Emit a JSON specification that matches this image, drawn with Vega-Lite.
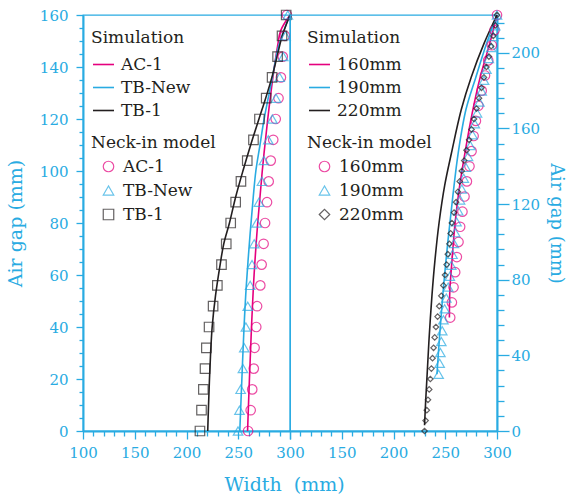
{
  "$schema": "https://vega.github.io/schema/vega-lite/v6.json",
  "padding": {"left": 5, "top": 7, "right": 2, "bottom": 2},
  "background": "white",
  "config": {
    "font": "DejaVu Serif",
    "view": {"stroke": "#29abe2", "strokeWidth": 1.3},
    "axis": {
      "grid": false, "domainColor": "#29abe2", "domainWidth": 2, "tickColor": "#29abe2", "tickWidth": 1.3,
      "labelColor": "#29abe2", "labelFontSize": 15, "labelFont": "DejaVu Serif", "labelOverlap": false, "labelFlush": false, "labelBound": false,
      "titleColor": "#29abe2", "titleFontSize": 19, "titleFontWeight": "normal", "titleFont": "DejaVu Serif"
    },
    "legend": {
      "labelFont": "DejaVu Serif", "titleFont": "DejaVu Serif", "labelFontSize": 17, "titleFontSize": 17,
      "titleFontWeight": "normal", "labelColor": "#231f20", "titleColor": "#231f20", "padding": 0, "labelOffset": 6
    }
  },
  "datasets": {
    "simA": [
      {"s":"AC-1","x":259,"y":0},{"s":"AC-1","x":260.8,"y":20},{"s":"AC-1","x":262.8,"y":40},{"s":"AC-1","x":265.3,"y":60},{"s":"AC-1","x":268.8,"y":80},{"s":"AC-1","x":273.2,"y":100},{"s":"AC-1","x":278.5,"y":120},{"s":"AC-1","x":283.5,"y":136},{"s":"AC-1","x":288,"y":148},{"s":"AC-1","x":291,"y":154},{"s":"AC-1","x":300,"y":160},
      {"s":"TB-New","x":251.5,"y":0},{"s":"TB-New","x":253.5,"y":20},{"s":"TB-New","x":255.6,"y":40},{"s":"TB-New","x":257.8,"y":56},{"s":"TB-New","x":261.5,"y":76},{"s":"TB-New","x":264.5,"y":90},{"s":"TB-New","x":267,"y":100},{"s":"TB-New","x":271,"y":110},{"s":"TB-New","x":275,"y":120},{"s":"TB-New","x":283,"y":136},{"s":"TB-New","x":289,"y":148},{"s":"TB-New","x":300,"y":160},
      {"s":"TB-1","x":220.5,"y":0},{"s":"TB-1","x":221.3,"y":10},{"s":"TB-1","x":222.2,"y":20},{"s":"TB-1","x":223.3,"y":30},{"s":"TB-1","x":224.8,"y":40},{"s":"TB-1","x":228,"y":52},{"s":"TB-1","x":232.5,"y":64},{"s":"TB-1","x":236,"y":72},{"s":"TB-1","x":241.5,"y":80},{"s":"TB-1","x":247.5,"y":90},{"s":"TB-1","x":254.5,"y":100},{"s":"TB-1","x":262,"y":110},{"s":"TB-1","x":270,"y":120},{"s":"TB-1","x":276.5,"y":128},{"s":"TB-1","x":282.5,"y":136},{"s":"TB-1","x":287.5,"y":144},{"s":"TB-1","x":292.5,"y":152},{"s":"TB-1","x":300,"y":160}
    ],
    "modelA": [
      {"s":"AC-1","x":259.5,"y":0},{"s":"AC-1","x":262,"y":8},{"s":"AC-1","x":263.5,"y":16},{"s":"AC-1","x":265,"y":24},{"s":"AC-1","x":265.8,"y":32},{"s":"AC-1","x":267.4,"y":40},{"s":"AC-1","x":268.2,"y":48},{"s":"AC-1","x":271.3,"y":56},{"s":"AC-1","x":272.6,"y":64},{"s":"AC-1","x":274.5,"y":72},{"s":"AC-1","x":275.9,"y":80},{"s":"AC-1","x":277.8,"y":88},{"s":"AC-1","x":279.4,"y":96},{"s":"AC-1","x":281.4,"y":104},{"s":"AC-1","x":283.8,"y":112},{"s":"AC-1","x":286.2,"y":120},{"s":"AC-1","x":288.9,"y":128},{"s":"AC-1","x":291.2,"y":136},{"s":"AC-1","x":293,"y":144},{"s":"AC-1","x":295,"y":152},{"s":"AC-1","x":297,"y":160},
      {"s":"TB-New","x":249.8,"y":0},{"s":"TB-New","x":251.2,"y":8},{"s":"TB-New","x":252.3,"y":16},{"s":"TB-New","x":254.5,"y":24},{"s":"TB-New","x":255.8,"y":32},{"s":"TB-New","x":257.4,"y":40},{"s":"TB-New","x":259.2,"y":48},{"s":"TB-New","x":261.5,"y":56},{"s":"TB-New","x":263.3,"y":64},{"s":"TB-New","x":265.4,"y":72},{"s":"TB-New","x":267.8,"y":80},{"s":"TB-New","x":270,"y":88},{"s":"TB-New","x":272.9,"y":96},{"s":"TB-New","x":274.8,"y":104},{"s":"TB-New","x":279,"y":112},{"s":"TB-New","x":283,"y":120},{"s":"TB-New","x":286.5,"y":128},{"s":"TB-New","x":290,"y":136},{"s":"TB-New","x":293.5,"y":144},{"s":"TB-New","x":295.7,"y":152},{"s":"TB-New","x":297.9,"y":160},
      {"s":"TB-1","x":213,"y":0},{"s":"TB-1","x":214.5,"y":8},{"s":"TB-1","x":216.3,"y":16},{"s":"TB-1","x":217.9,"y":24},{"s":"TB-1","x":219.2,"y":32},{"s":"TB-1","x":221.8,"y":40},{"s":"TB-1","x":225.7,"y":48},{"s":"TB-1","x":229.8,"y":56},{"s":"TB-1","x":233.8,"y":64},{"s":"TB-1","x":238.4,"y":72},{"s":"TB-1","x":242.7,"y":80},{"s":"TB-1","x":247.5,"y":88},{"s":"TB-1","x":252.6,"y":96},{"s":"TB-1","x":258.7,"y":104},{"s":"TB-1","x":264.7,"y":112},{"s":"TB-1","x":270.5,"y":120},{"s":"TB-1","x":277,"y":128},{"s":"TB-1","x":282.7,"y":136},{"s":"TB-1","x":288,"y":144},{"s":"TB-1","x":292.3,"y":152},{"s":"TB-1","x":296.3,"y":160}
    ],
    "simB": [
      {"s":"160mm","x":254,"y":60},{"s":"160mm","x":254.5,"y":75},{"s":"160mm","x":256.5,"y":90},{"s":"160mm","x":259.5,"y":110},{"s":"160mm","x":264,"y":130},{"s":"160mm","x":269,"y":147},{"s":"160mm","x":276,"y":168},{"s":"160mm","x":283.7,"y":187},{"s":"160mm","x":293,"y":205},{"s":"160mm","x":300,"y":220},
      {"s":"190mm","x":242,"y":30},{"s":"190mm","x":244.5,"y":50},{"s":"190mm","x":247.8,"y":73},{"s":"190mm","x":252.5,"y":100},{"s":"190mm","x":257.5,"y":125},{"s":"190mm","x":262.5,"y":147},{"s":"190mm","x":270,"y":170},{"s":"190mm","x":279.5,"y":187},{"s":"190mm","x":290,"y":205},{"s":"190mm","x":300,"y":220},
      {"s":"220mm","x":230,"y":3},{"s":"220mm","x":231,"y":15},{"s":"220mm","x":232.5,"y":30},{"s":"220mm","x":234.5,"y":50},{"s":"220mm","x":237.2,"y":72},{"s":"220mm","x":240,"y":90},{"s":"220mm","x":244,"y":110},{"s":"220mm","x":249.5,"y":130},{"s":"220mm","x":256,"y":147},{"s":"220mm","x":265.5,"y":170},{"s":"220mm","x":275,"y":187},{"s":"220mm","x":287.5,"y":205},{"s":"220mm","x":300,"y":220}
    ],
    "modelB": [
      {"s":"160mm","x":254.8,"y":60},{"s":"160mm","x":256.4,"y":68},{"s":"160mm","x":258,"y":76},{"s":"160mm","x":259.6,"y":84},{"s":"160mm","x":261.2,"y":92},{"s":"160mm","x":262.8,"y":100},{"s":"160mm","x":264.4,"y":108},{"s":"160mm","x":266.6,"y":116},{"s":"160mm","x":268.6,"y":124},{"s":"160mm","x":270.9,"y":132},{"s":"160mm","x":273.4,"y":140},{"s":"160mm","x":275.4,"y":148},{"s":"160mm","x":277.4,"y":156},{"s":"160mm","x":279.6,"y":164},{"s":"160mm","x":282,"y":172},{"s":"160mm","x":285.2,"y":180},{"s":"160mm","x":288.4,"y":188},{"s":"160mm","x":291.5,"y":196},{"s":"160mm","x":295,"y":204},{"s":"160mm","x":297.6,"y":212},{"s":"160mm","x":300,"y":220},
      {"s":"190mm","x":243.6,"y":30},{"s":"190mm","x":244.6,"y":35.8},{"s":"190mm","x":245.3,"y":41.5},{"s":"190mm","x":246.2,"y":47.3},{"s":"190mm","x":247.1,"y":53},{"s":"190mm","x":248.2,"y":58.8},{"s":"190mm","x":249.4,"y":64.6},{"s":"190mm","x":251,"y":70.3},{"s":"190mm","x":252.8,"y":76.1},{"s":"190mm","x":254.4,"y":81.8},{"s":"190mm","x":255.8,"y":87.6},{"s":"190mm","x":257,"y":93.4},{"s":"190mm","x":258.4,"y":99.1},{"s":"190mm","x":259.6,"y":104.9},{"s":"190mm","x":260.9,"y":110.6},{"s":"190mm","x":262.5,"y":116.4},{"s":"190mm","x":264.3,"y":122.2},{"s":"190mm","x":266,"y":127.9},{"s":"190mm","x":267.9,"y":133.7},{"s":"190mm","x":269.9,"y":139.4},{"s":"190mm","x":272,"y":145.2},{"s":"190mm","x":274.2,"y":151},{"s":"190mm","x":276.3,"y":156.7},{"s":"190mm","x":278.5,"y":162.5},{"s":"190mm","x":280.7,"y":168.2},{"s":"190mm","x":283,"y":174},{"s":"190mm","x":285.2,"y":179.8},{"s":"190mm","x":287.5,"y":185.5},{"s":"190mm","x":289.8,"y":191.3},{"s":"190mm","x":292.1,"y":197},{"s":"190mm","x":294.3,"y":202.8},{"s":"190mm","x":296.4,"y":208.6},{"s":"190mm","x":298.3,"y":214.3},{"s":"190mm","x":300,"y":220},
      {"s":"220mm","x":230,"y":0},{"s":"220mm","x":231,"y":5.5},{"s":"220mm","x":232.2,"y":11},{"s":"220mm","x":233.3,"y":16.5},{"s":"220mm","x":234.5,"y":22},{"s":"220mm","x":235.6,"y":27.5},{"s":"220mm","x":236.6,"y":33},{"s":"220mm","x":237.7,"y":38.5},{"s":"220mm","x":238.7,"y":44},{"s":"220mm","x":239.8,"y":49.5},{"s":"220mm","x":241,"y":55},{"s":"220mm","x":242.6,"y":60.5},{"s":"220mm","x":244.2,"y":66},{"s":"220mm","x":246.2,"y":71.5},{"s":"220mm","x":248.2,"y":77},{"s":"220mm","x":249.8,"y":82.5},{"s":"220mm","x":251.3,"y":88},{"s":"220mm","x":252.5,"y":93.5},{"s":"220mm","x":254,"y":99},{"s":"220mm","x":255.2,"y":104.5},{"s":"220mm","x":256.4,"y":110},{"s":"220mm","x":258.5,"y":115.5},{"s":"220mm","x":260.5,"y":121},{"s":"220mm","x":262.2,"y":126.5},{"s":"220mm","x":264,"y":132},{"s":"220mm","x":266,"y":137.5},{"s":"220mm","x":268.3,"y":143},{"s":"220mm","x":270.6,"y":148.5},{"s":"220mm","x":273,"y":154},{"s":"220mm","x":275.4,"y":159.5},{"s":"220mm","x":277.8,"y":165},{"s":"220mm","x":280.2,"y":170.5},{"s":"220mm","x":282.6,"y":176},{"s":"220mm","x":285,"y":181.5},{"s":"220mm","x":287.4,"y":187},{"s":"220mm","x":289.8,"y":192.5},{"s":"220mm","x":292.2,"y":198},{"s":"220mm","x":294.4,"y":203.5},{"s":"220mm","x":296.4,"y":209},{"s":"220mm","x":298.3,"y":214.5},{"s":"220mm","x":300,"y":220}
    ]
  },
  "spacing": 0,
  "bounds": "flush",
  "resolve": {"scale": {"color": "independent", "shape": "independent", "x": "independent", "y": "independent"}},
  "hconcat": [
    {
      "width": 207, "height": 416,
      "encoding": {
        "x": {"field": "x", "type": "quantitative", "scale": {"domain": [100, 300], "nice": false, "zero": false},
          "axis": {"values": [100,110,120,130,140,150,160,170,180,190,200,210,220,230,240,250,260,270,280,290,300],
            "labelExpr": "datum.value % 50 === 0 ? datum.label : ''",
            "tickSize": {"condition": {"test": "datum.value % 50 === 0", "value": 8}, "value": 5},
            "labelPadding": 6, "title": "Width \u00a0(mm)", "titleX": 201, "titleY": 44, "titleAlign": "center"}},
        "y": {"field": "y", "type": "quantitative", "scale": {"domain": [0, 160], "nice": false},
          "axis": {"values": [0,5,10,15,20,25,30,35,40,45,50,55,60,65,70,75,80,85,90,95,100,105,110,115,120,125,130,135,140,145,150,155,160],
            "labelExpr": "datum.value % 20 === 0 ? datum.label : ''",
            "tickSize": {"condition": {"test": "datum.value % 20 === 0", "value": 7}, "value": 4},
            "labelPadding": 8, "title": "Air gap (mm)", "titlePadding": 14}}
      },
      "layer": [
        {
          "data": {"name": "simA"},
          "mark": {"type": "line", "strokeWidth": 1.6, "interpolate": "catmull-rom"},
          "encoding": {
            "order": {"field": "y", "type": "quantitative"},
            "color": {"field": "s", "type": "nominal",
              "scale": {"domain": ["AC-1", "TB-New", "TB-1"], "range": ["#e5007e", "#29abe2", "#231f20"]},
              "legend": {"orient": "none", "legendX": 8, "legendY": 15, "title": "Simulation", "symbolType": "stroke",
                "symbolSize": 440, "symbolStrokeWidth": 1.6, "rowPadding": 3, "titlePadding": 6, "symbolOffset": 1}}
          }
        },
        {
          "data": {"name": "modelA"},
          "mark": {"type": "point", "filled": false, "strokeWidth": 1.2, "size": 90},
          "encoding": {
            "color": {"field": "s", "type": "nominal",
              "scale": {"domain": ["AC-1", "TB-New", "TB-1"], "range": ["#e5007e", "#29abe2", "#231f20"]},
              "legend": {"orient": "none", "legendX": 8, "legendY": 120, "title": "Neck-in model",
                "symbolSize": 110, "symbolStrokeWidth": 1.2, "rowPadding": 6, "titlePadding": 6, "symbolOffset": 9}},
            "shape": {"field": "s", "type": "nominal",
              "scale": {"domain": ["AC-1", "TB-New", "TB-1"], "range": ["circle", "triangle-up", "square"]},
              "legend": {"orient": "none", "legendX": 8, "legendY": 120, "title": "Neck-in model",
                "symbolSize": 110, "symbolStrokeWidth": 1.2, "rowPadding": 6, "titlePadding": 6, "symbolOffset": 9}}
          }
        },
        {
          "data": {"values": [{}]},
          "mark": {"type": "text", "fontSize": 17, "color": "#231f20", "font": "DejaVu Serif"},
          "encoding": {"x": {"datum": 125}, "y": {"datum": 10}, "text": {"value": "(a)"}}
        }
      ],
      "resolve": {"scale": {"color": "independent", "shape": "independent"}}
    },
    {
      "width": 207, "height": 416,
      "encoding": {
        "x": {"field": "x", "type": "quantitative", "scale": {"domain": [100, 300], "nice": false, "zero": false},
          "axis": {"values": [100,110,120,130,140,150,160,170,180,190,200,210,220,230,240,250,260,270,280,290,300],
            "labelExpr": "datum.value % 50 === 0 && datum.value > 100 ? datum.label : ''",
            "tickSize": {"condition": {"test": "datum.value % 50 === 0", "value": 8}, "value": 5},
            "labelPadding": 6, "title": null}},
        "y": {"field": "y", "type": "quantitative", "scale": {"domain": [0, 220], "nice": false},
          "axis": {"orient": "right", "values": [0,8,16,24,32,40,48,56,64,72,80,88,96,104,112,120,128,136,144,152,160,168,176,184,192,200,208,216],
            "labelExpr": "datum.value % 40 === 0 ? datum.label : ''",
            "tickSize": {"condition": {"test": "datum.value % 40 === 0", "value": 12}, "value": 7},
            "labelPadding": 2, "title": "Air gap (mm)", "titleFontSize": 18, "titlePadding": 7}}
      },
      "layer": [
        {
          "data": {"name": "simB"},
          "mark": {"type": "line", "strokeWidth": 1.6, "interpolate": "catmull-rom"},
          "encoding": {
            "order": {"field": "y", "type": "quantitative"},
            "color": {"field": "s", "type": "nominal",
              "scale": {"domain": ["160mm", "190mm", "220mm"], "range": ["#e5007e", "#29abe2", "#231f20"]},
              "legend": {"orient": "none", "legendX": 17, "legendY": 15, "title": "Simulation", "symbolType": "stroke",
                "symbolSize": 440, "symbolStrokeWidth": 1.6, "rowPadding": 3, "titlePadding": 6, "symbolOffset": 1}}
          }
        },
        {
          "data": {"name": "modelB"},
          "mark": {"type": "point", "filled": false, "strokeWidth": 1.2},
          "encoding": {
            "size": {"condition": {"test": "datum.s === '220mm'", "value": 30}, "value": 90},
            "color": {"field": "s", "type": "nominal",
              "scale": {"domain": ["160mm", "190mm", "220mm"], "range": ["#e5007e", "#29abe2", "#231f20"]},
              "legend": {"orient": "none", "legendX": 17, "legendY": 120, "title": "Neck-in model",
                "symbolSize": 110, "symbolStrokeWidth": 1.2, "rowPadding": 6, "titlePadding": 6, "symbolOffset": 9}},
            "shape": {"field": "s", "type": "nominal",
              "scale": {"domain": ["160mm", "190mm", "220mm"], "range": ["circle", "triangle-up", "diamond"]},
              "legend": {"orient": "none", "legendX": 17, "legendY": 120, "title": "Neck-in model",
                "symbolSize": 110, "symbolStrokeWidth": 1.2, "rowPadding": 6, "titlePadding": 6, "symbolOffset": 9}}
          }
        },
        {
          "data": {"values": [{}]},
          "mark": {"type": "text", "fontSize": 17, "color": "#231f20", "font": "DejaVu Serif"},
          "encoding": {"x": {"datum": 126.5}, "y": {"datum": 13.7}, "text": {"value": "(b)"}}
        }
      ],
      "resolve": {"scale": {"color": "independent", "shape": "independent"}}
    }
  ]
}
